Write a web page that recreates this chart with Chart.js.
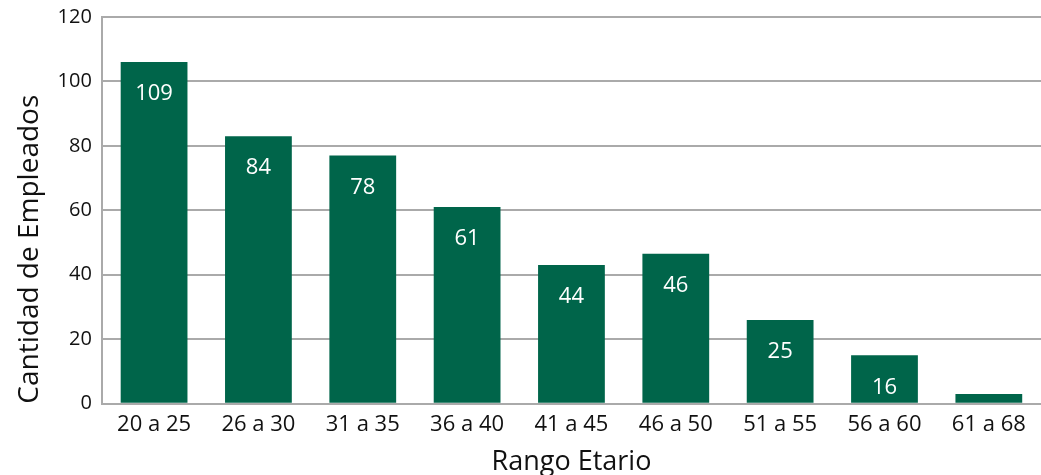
<!DOCTYPE html>
<html>
<head>
<meta charset="utf-8">
<script src="https://cdn.jsdelivr.net/npm/chart.js@4"></script>
<style>
html,body{margin:0;padding:0;background:#fff;}
#wrap{width:1041px;height:475px;}
</style>
</head>
<body>
<div id="wrap"><canvas id="c" width="1041" height="475"></canvas></div>
<script>
const categories = ["20 a 25","26 a 30","31 a 35","36 a 40","41 a 45","46 a 50","51 a 55","56 a 60","61 a 68"];
const barValues = [106, 83, 77, 61, 43, 46.5, 26, 15, 3];
const printedLabels = ["109","84","78","61","44","46","25","16",""];
const yTicks = [0,20,40,60,80,100,120];

const FONT = "'Open Sans', 'Noto Sans', sans-serif";

const labelPlugin = {
  id: 'insideLabels',
  afterDatasetsDraw(chart) {
    const ctx = chart.ctx;
    const meta = chart.getDatasetMeta(0);
    ctx.save();
    ctx.fillStyle = '#ffffff';
    ctx.font = "22px " + FONT;
    ctx.textAlign = 'center';
    ctx.textBaseline = 'middle';
    meta.data.forEach((bar, i) => {
      const t = printedLabels[i];
      if (!t) return;
      ctx.fillText(t, bar.x, bar.y + 32);
    });
    ctx.restore();
  }
};

new Chart(document.getElementById('c'), {
  type: 'bar',
  data: {
    labels: categories,
    datasets: [{
      data: barValues,
      backgroundColor: '#00654a',
      borderWidth: 0,
      barPercentage: 0.64,
      categoryPercentage: 1.0
    }]
  },
  options: {
    responsive: false,
    animation: false,
    layout: { padding: { top: 1, right: 0, left: 13, bottom: 1 } },
    plugins: { legend: { display: false }, tooltip: { enabled: false } },
    scales: {
      x: {
        grid: { display: false, drawTicks: false },
        border: { display: true, color: '#aaaaaa', width: 2 },
        ticks: { color: '#111', font: { family: FONT, size: 22 }, padding: 8, maxRotation: 0 },
        title: { display: true, text: 'Rango Etario', color: '#111', font: { family: FONT, size: 27, lineHeight: 0.85 }, padding: { top: 5, bottom: 0 } }
      },
      y: {
        min: 0, max: 120,
        z: 1,
        afterBuildTicks(scale) { scale.ticks = yTicks.map(v => ({ value: v })); },
        grid: { color: '#aaaaaa', lineWidth: 2, drawTicks: false },
        border: { display: true, color: '#aaaaaa', width: 2 },
        ticks: { color: '#111', font: { family: FONT, size: 20, lineHeight: 0.7 }, padding: 10 },
        title: { display: true, text: 'Cantidad de Empleados', align: 'start', color: '#111', font: { family: FONT, size: 28 }, padding: { top: 0, bottom: 1 } }
      }
    }
  },
  plugins: [labelPlugin]
});
</script>
</body>
</html>
